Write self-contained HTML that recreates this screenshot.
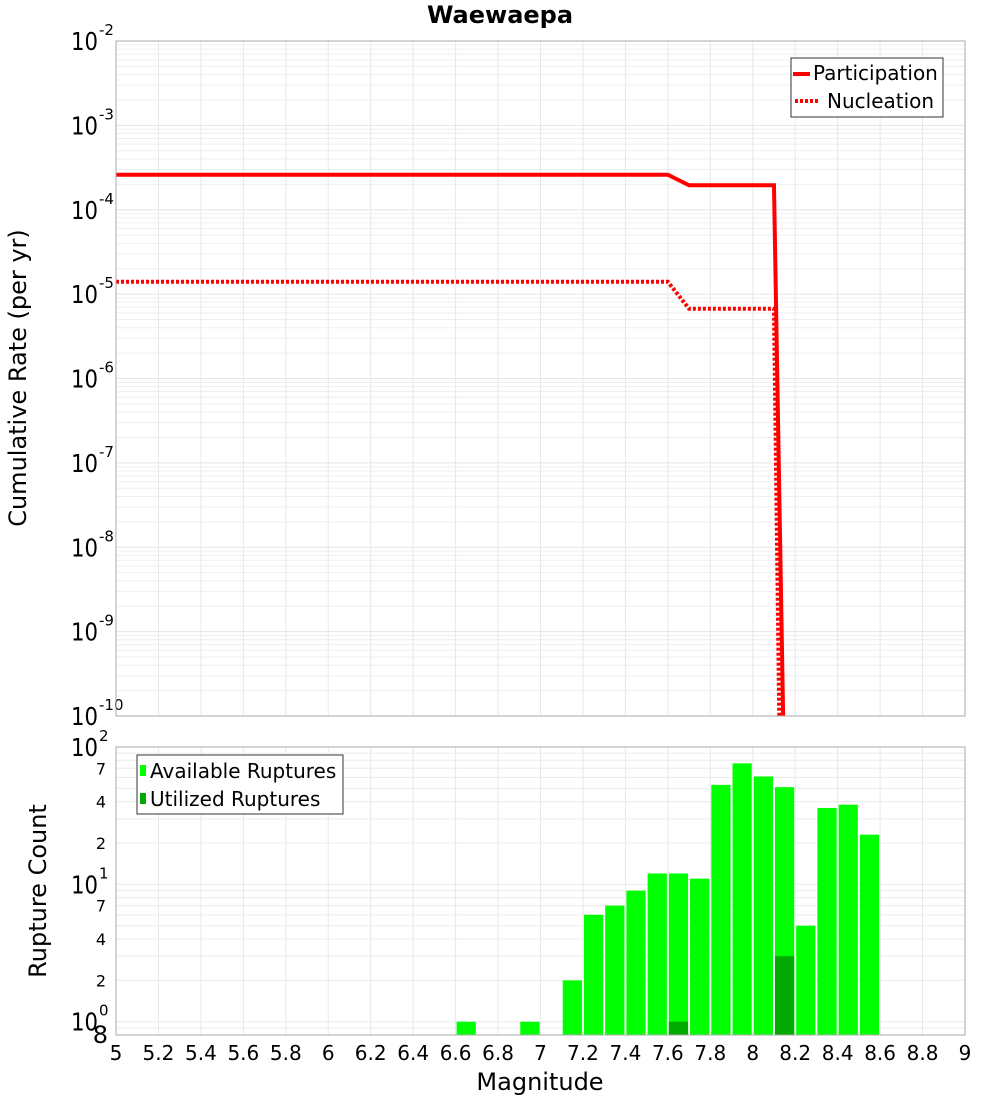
<!DOCTYPE html>
<html><head><meta charset="utf-8">
<style>
body{margin:0;background:#fff;}
svg text{font-family:"DejaVu Sans","Liberation Sans",sans-serif;}
</style></head>
<body>
<svg id="chart" width="1000" height="1100" xmlns="http://www.w3.org/2000/svg">
<rect width="1000" height="1100" fill="#fff"/>
<text x="500" y="23" text-anchor="middle" font-size="24" font-weight="bold">Waewaepa</text>
<g id="topg"></g>
<g id="botg"></g>
<text transform="translate(26,378) rotate(-90)" text-anchor="middle" font-size="24">Cumulative Rate (per yr)</text>
<text transform="translate(46,891) rotate(-90)" text-anchor="middle" font-size="24">Rupture Count</text>
<text x="540" y="1090" text-anchor="middle" font-size="24">Magnitude</text>
</svg>
<script>
const partMag=[5,7.6,7.7,8.1,8.15];
const partRate=[2.6e-4,2.6e-4,1.95e-4,1.95e-4,1e-11];
const nuclMag=[5,7.6,7.7,8.1,8.13];
const nuclRate=[1.4e-5,1.4e-5,6.7e-6,6.7e-6,1e-11];
const binMag=[6.6,6.9,7.1,7.2,7.3,7.4,7.5,7.6,7.7,7.8,7.9,8.0,8.1,8.2,8.3,8.4,8.5];
const availCount=[1,1,2,6,7,9,12,12,11,53,76,61,51,5,36,38,23];
const utilMag=[7.6,8.1];
const utilCount=[1,3];
const xTicks=[5,5.2,5.4,5.6,5.8,6,6.2,6.4,6.6,6.8,7,7.2,7.4,7.6,7.8,8,8.2,8.4,8.6,8.8,9];
const topDecades=[-2,-3,-4,-5,-6,-7,-8,-9,-10];
const botMinor=[0.8,2,4,7,20,40,70];

const NS="http://www.w3.org/2000/svg";
const L=116,R=965,T1=41,B1=716,T2=747,B2=1035;
const xs=m=>L+(m-5)/4*(R-L);
const y1=v=>T1+(-2-Math.log10(v))/8*(B1-T1);
const lmin=Math.log10(0.8),lmax=2;
const y2=v=>T2+(lmax-Math.log10(v))/(lmax-lmin)*(B2-T2);
function mk(p,tag,a,txt){const e=document.createElementNS(NS,tag);for(const k in a)e.setAttribute(k,a[k]);if(txt!==undefined)e.textContent=txt;p.appendChild(e);return e;}
const gTop=document.getElementById('topg'),gBot=document.getElementById('botg');

for(let d=-10;d<-2;d++)for(let k=1;k<10;k++){const y=y1(k*Math.pow(10,d));
 const g=mk(gTop,'line',{x1:L,x2:R,y1:y,y2:y,stroke:k==1?'#e4e4e4':'#efefef','stroke-width':1});
 
 }
for(const t of xTicks){const g=mk(gTop,'line',{x1:xs(t),x2:xs(t),y1:T1,y2:B1,stroke:'#e8e8e8'});
 
 
 const g2=mk(gBot,'line',{x1:xs(t),x2:xs(t),y1:T2,y2:B2,stroke:'#e8e8e8'});
 
 }
function decLabel(p,y,e,name){
 const t=mk(p,'text',{x:98,y:y+9,'text-anchor':'end','font-size':25,textLength:27,lengthAdjust:'spacingAndGlyphs'},'10');
 
 
 const s=mk(p,'text',{x:99,y:y-6,'font-size':15},e);
 
 }
for(const d of topDecades){decLabel(gTop,y1(Math.pow(10,d)),String(d),'y-tick-label');}
function line(ms,vs,dash,name){let d='';ms.forEach((m,i)=>{let y=y1(vs[i]);let x=xs(m);
 if(y>B1){const pm=ms[i-1],py=y1(vs[i-1]);x=xs(pm)+(x-xs(pm))*(B1-py)/(y-py);y=B1;}
 d+=(i?'L':'M')+x+','+y;});
 const p=mk(gTop,'path',{d:d,fill:'none',stroke:'#ff0000','stroke-width':4,'stroke-dasharray':dash||'none'});
 
 }
line(partMag,partRate,null,'participation-line');
line(nuclMag,nuclRate,'3,2','nucleation-line');
mk(gTop,'rect',{x:L,y:T1,width:R-L,height:B1-T1,fill:'none',stroke:'#aaa'});
const lg=mk(gTop,'g',{});


mk(lg,'rect',{x:791,y:58,width:152,height:59,fill:'#fff',stroke:'#333'});
mk(lg,'line',{x1:793,x2:810,y1:74,y2:74,stroke:'#f00','stroke-width':4});
mk(lg,'text',{x:813,y:80,'font-size':20},'Participation');
mk(lg,'line',{x1:795,x2:820,y1:101,y2:101,stroke:'#f00','stroke-width':4,'stroke-dasharray':'3,2'});
mk(lg,'text',{x:827,y:108,'font-size':20},'Nucleation');

for(let d=-1;d<2;d++)for(let k=1;k<10;k++){const v=k*Math.pow(10,d);if(v<0.8)continue;const y=y2(v);
 const g=mk(gBot,'line',{x1:L,x2:R,y1:y,y2:y,stroke:'#ececec'});
 
 }
binMag.forEach((m,i)=>{const b=mk(gBot,'rect',{x:xs(m)+1,y:y2(availCount[i]),width:xs(m+0.1)-xs(m)-2,height:B2-y2(availCount[i]),fill:'#00ff00'});
 
 });
utilMag.forEach((m,i)=>{const b=mk(gBot,'rect',{x:xs(m)+1,y:y2(utilCount[i]),width:xs(m+0.1)-xs(m)-2,height:B2-y2(utilCount[i]),fill:'#00aa00'});
 
 });
mk(gBot,'rect',{x:L,y:T2,width:R-L,height:B2-T2,fill:'none',stroke:'#aaa'});
[[100,'2'],[10,'1'],[1,'0']].forEach(([v,e])=>{decLabel(gBot,y2(v),e,'y-tick-label-count');});
botMinor.forEach(v=>{const t=mk(gBot,'text',{x:v==0.8?108:106,y:y2(v)+(v==0.8?8:6),'text-anchor':'end','font-size':v==0.8?24:16},String(v==0.8?8:v%10==0?v/10:v));
 
 });
xTicks.forEach(t=>{const e=mk(gBot,'text',{x:xs(t),y:1060,'text-anchor':'middle','font-size':20},String(t));
 
 });
const lg2=mk(gBot,'g',{});


mk(lg2,'rect',{x:137,y:755,width:206,height:59,fill:'#fff',stroke:'#333'});
mk(lg2,'rect',{x:140,y:765,width:6,height:11,fill:'#00ff00'});
mk(lg2,'text',{x:150,y:778,'font-size':20},'Available Ruptures');
mk(lg2,'rect',{x:140,y:793,width:6,height:11,fill:'#00aa00'});
mk(lg2,'text',{x:150,y:806,'font-size':20},'Utilized Ruptures');
</script>
</body></html>
